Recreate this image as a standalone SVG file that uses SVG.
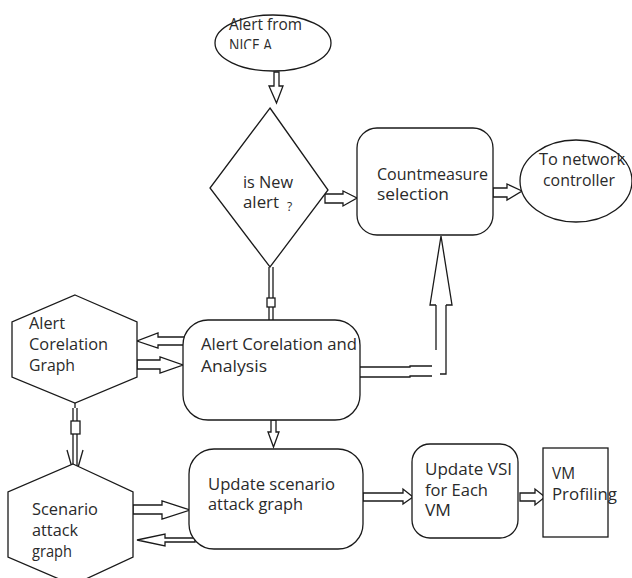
<svg xmlns="http://www.w3.org/2000/svg" width="632" height="578" viewBox="0 0 632 578">
<style>
.s{fill:#fff;stroke:#1a1a1a;stroke-width:1.3}
.l{fill:none;stroke:#1a1a1a;stroke-width:1.3}
.t{font-family:"Open Sans","Liberation Sans",sans-serif;font-size:16px;fill:#2a2a2a}
</style>
<defs>
<clipPath id="clipNice"><rect x="200" y="0" width="150" height="49"/></clipPath>
</defs>
<rect width="632" height="578" fill="#fff"/>

<g id="connectors">
<polygon class="s" points="274,72 279,72 279,86 283,86 276.5,103 269,86 274,86"/>
<polygon class="s" points="325,194 343,194 343,191 357,198 343,206 343,203 325,203"/>
<polygon class="s" points="493,188 507,188 507,184 522,191 507,200 507,197 493,197"/>
<g>
<line class="l" x1="269" y1="267" x2="269" y2="298"/>
<line class="l" x1="273" y1="267" x2="273" y2="298"/>
<rect class="s" x="267" y="298" width="8" height="9"/>
<line class="l" x1="269" y1="307" x2="269" y2="320"/>
<line class="l" x1="273" y1="307" x2="273" y2="320"/>
</g>
<polygon class="s" points="186,337 158,337 158,333 137,341 158,348 158,345 186,345"/>
<polygon class="s" points="137,360 160,360 160,357 183,365 160,373 160,369 137,369"/>
<g>
<polyline class="l" points="360,367 410,367 410,366 432,366"/>
<polyline class="l" points="360,377 410,377 410,376 432,376"/>
<line class="l" x1="436" y1="350" x2="436" y2="305"/>
<polyline class="l" points="440,374 446,374 446,305"/>
<polyline class="l" points="436,305 430,305 441,236 452,305 446,305"/>
</g>
<polygon class="s" points="271,420 276,420 276,432 279,432 273.5,447 268,432 271,432"/>
<g>
<line class="l" x1="75" y1="403" x2="75" y2="408"/>
<line class="l" x1="73" y1="408" x2="73" y2="421"/>
<line class="l" x1="77" y1="408" x2="77" y2="421"/>
<rect class="s" x="71" y="421" width="9" height="13"/>
<line class="l" x1="73" y1="434" x2="73" y2="472"/>
<line class="l" x1="77" y1="434" x2="77" y2="472"/>
<line class="l" x1="67" y1="450" x2="73" y2="471"/>
<line class="l" x1="83" y1="450" x2="77" y2="471"/>
</g>
<polygon class="s" points="133,505 162,505 162,501 190,510 162,519 162,514 133,514"/>
<polygon class="s" points="195,538 165,538 165,534 137,540 165,546 165,542 195,542"/>
<polygon class="s" points="363,493 403,493 403,489 413,497 403,504 403,501 363,501"/>
<polygon class="s" points="520,493 535,493 535,489 545,497 535,505 535,501 520,501"/>
</g>

<g id="alert-from-nice">
<ellipse class="s" cx="273" cy="43" rx="58" ry="28"/>
<text class="t" x="229" y="30" textLength="73" lengthAdjust="spacingAndGlyphs">Alert from</text>
<text class="t" x="229" y="51" textLength="43" lengthAdjust="spacingAndGlyphs" clip-path="url(#clipNice)">NICE A</text>
</g>

<g id="is-new-alert">
<polygon class="s" points="270,108 328,190 270,267 210,188"/>
<text class="t" x="243" y="188" textLength="50" lengthAdjust="spacingAndGlyphs">is New</text>
<text class="t" x="243" y="208" textLength="36" lengthAdjust="spacingAndGlyphs">alert</text>
<text class="t" x="287" y="211" style="font-size:12px">?</text>
</g>

<g id="countmeasure">
<rect class="s" x="357" y="128" width="136" height="107" rx="20"/>
<text class="t" x="377" y="180" textLength="111" lengthAdjust="spacingAndGlyphs">Countmeasure</text>
<text class="t" x="377" y="200" textLength="72" lengthAdjust="spacingAndGlyphs">selection</text>
</g>

<g id="network-controller">
<ellipse class="s" cx="576" cy="181" rx="56" ry="41"/>
<text class="t" x="539" y="165" textLength="86" lengthAdjust="spacingAndGlyphs">To network</text>
<text class="t" x="543" y="186" textLength="72" lengthAdjust="spacingAndGlyphs">controller</text>
</g>

<g id="alert-corelation-graph">
<polygon class="s" points="75,295 137,322 137,377 75,403 12,377 12,322"/>
<text class="t" x="29" y="329" textLength="36" lengthAdjust="spacingAndGlyphs">Alert</text>
<text class="t" x="29" y="350" textLength="79" lengthAdjust="spacingAndGlyphs">Corelation</text>
<text class="t" x="29" y="371" textLength="46" lengthAdjust="spacingAndGlyphs">Graph</text>
</g>

<g id="alert-corelation-analysis">
<rect class="s" x="183" y="320" width="177" height="100" rx="25"/>
<text class="t" x="201" y="350" textLength="156" lengthAdjust="spacingAndGlyphs">Alert Corelation and</text>
<text class="t" x="201" y="372" textLength="66" lengthAdjust="spacingAndGlyphs">Analysis</text>
</g>

<g id="scenario-attack-graph">
<polygon class="s" points="73,464 133,492 133,557 73,585 8,557 8,492"/>
<text class="t" x="32" y="515" textLength="66" lengthAdjust="spacingAndGlyphs">Scenario</text>
<text class="t" x="32" y="536" textLength="46" lengthAdjust="spacingAndGlyphs">attack</text>
<text class="t" x="32" y="557" textLength="40" lengthAdjust="spacingAndGlyphs">graph</text>
</g>

<g id="update-scenario">
<rect class="s" x="189" y="449" width="174" height="100" rx="25"/>
<text class="t" x="208" y="490" textLength="127" lengthAdjust="spacingAndGlyphs">Update scenario</text>
<text class="t" x="208" y="510" textLength="95" lengthAdjust="spacingAndGlyphs">attack graph</text>
</g>

<g id="update-vsi">
<rect class="s" x="412" y="444" width="106" height="94" rx="18"/>
<text class="t" x="425" y="475" textLength="87" lengthAdjust="spacingAndGlyphs">Update VSI</text>
<text class="t" x="425" y="496" textLength="63" lengthAdjust="spacingAndGlyphs">for Each</text>
<text class="t" x="425" y="516" textLength="26" lengthAdjust="spacingAndGlyphs">VM</text>
</g>

<g id="vm-profiling">
<rect class="s" x="543" y="448" width="65" height="89"/>
<text class="t" x="552" y="479" textLength="23" lengthAdjust="spacingAndGlyphs">VM</text>
<text class="t" x="552" y="500" textLength="65" lengthAdjust="spacingAndGlyphs">Profiling</text>
</g>
</svg>
